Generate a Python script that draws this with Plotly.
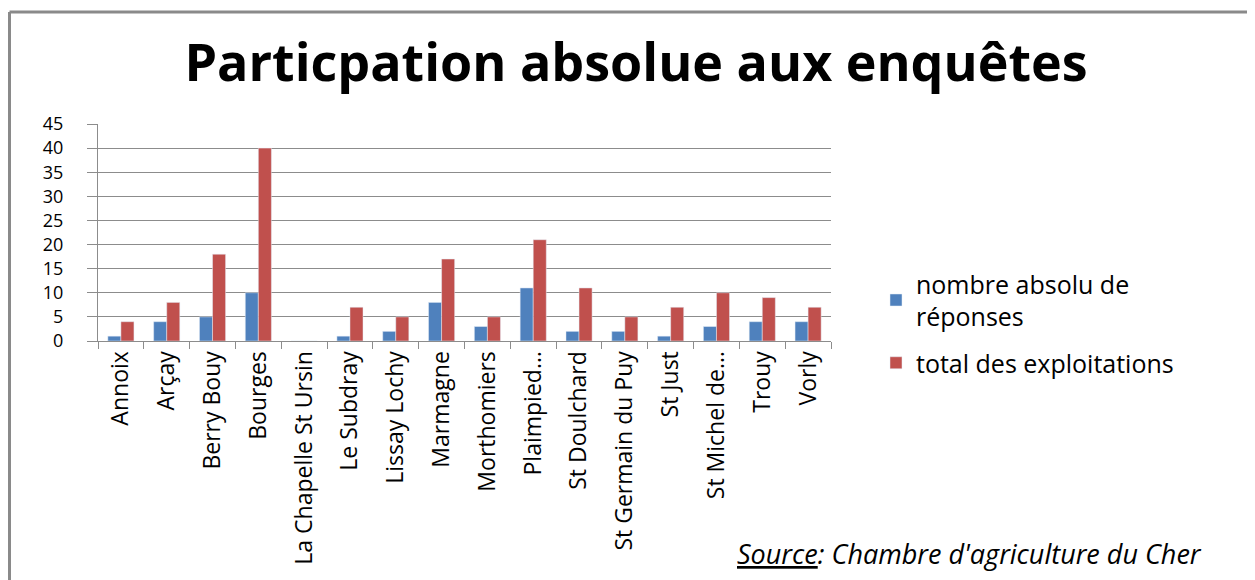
import plotly.graph_objects as go

# communes enquêtées
communes = [
    "Annoix", "Arçay", "Berry Bouy", "Bourges", "La Chapelle St Ursin",
    "Le Subdray", "Lissay Lochy", "Marmagne", "Morthomiers", "Plaimpied…",
    "St Doulchard", "St Germain du Puy", "St Just", "St Michel de…",
    "Trouy", "Vorly",
]
reponses = [1, 4, 5, 10, 0, 1, 2, 8, 3, 11, 2, 2, 1, 3, 4, 4]
exploitations = [4, 8, 18, 40, 0, 7, 5, 17, 5, 21, 11, 5, 7, 10, 9, 7]

BLUE = "#4F81BD"
RED = "#C0504D"
GRID = "#8C8C8C"
FONT = "Open Sans"

# the page body adds an 8px margin, so the figure is drawn 8px smaller
OFF = 8
W, H = 1255 - OFF, 580 - OFF
# plot area in page pixels
L, R, T, B = 98 - OFF, 1255 - 831, 124 - OFF, 580 - 341
pw, ph = W - L - R, H - T - B


def px_x(x):
    # page pixel -> paper x
    return (x - OFF - L) / pw


def px_y(y):
    # page pixel -> paper y
    return (H - B - (y - OFF)) / ph


fig = go.Figure()
fig.add_trace(go.Bar(x=communes, y=reponses, name="nombre absolu de<br>réponses",
                     marker_color=BLUE, legendgroup="a"))
fig.add_trace(go.Bar(x=communes, y=exploitations, name="total des exploitations",
                     marker_color=RED, legendgroup="b"))

fig.update_layout(
    width=W, height=H,
    margin=dict(l=L, r=R, t=T, b=B),
    plot_bgcolor="white",
    paper_bgcolor="white",
    font=dict(family=FONT, color="black"),
    barmode="group",
    bargap=0.43,
    bargroupgap=0,
    title=dict(text="<b>Particpation absolue aux enquêtes</b>",
               font=dict(family=FONT, size=52, color="black"),
               x=(636 - OFF) / W, xanchor="center",
               y=1 - (63 - OFF) / H, yanchor="middle"),
    legend=dict(x=px_x(876), y=px_y(261), xanchor="left", yanchor="top",
                font=dict(size=25), traceorder="grouped", tracegroupgap=11,
                itemwidth=30),
    showlegend=True,
)

fig.update_xaxes(
    type="category",
    tickangle=-90,
    tickfont=dict(size=23),
    showline=True, linecolor=GRID, linewidth=1,
    ticks="outside", tickson="boundaries", ticklen=7, tickcolor=GRID,
    showgrid=False,
)
fig.update_yaxes(
    range=[0, 45], dtick=5,
    tickfont=dict(size=18),
    showline=True, linecolor=GRID, linewidth=1,
    ticks="outside", ticklen=10, tickcolor=GRID,
    ticklabelstandoff=20,
    showgrid=True, gridcolor=GRID, gridwidth=1,
    zeroline=False,
)

# frame around the chart (top and left edges visible)
fig.add_shape(type="line", xref="paper", yref="paper",
              x0=px_x(9.5), x1=px_x(1270), y0=px_y(12), y1=px_y(12),
              line=dict(color="#8A8A8A", width=3))
fig.add_shape(type="line", xref="paper", yref="paper",
              x0=px_x(9.5), x1=px_x(9.5), y0=px_y(12), y1=px_y(600),
              line=dict(color="#8A8A8A", width=3))

fig.add_annotation(
    text="<i><u>Source</u>: Chambre d'agriculture du Cher</i>",
    xref="paper", yref="paper", x=px_x(1204), y=px_y(553),
    xanchor="right", yanchor="middle", showarrow=False,
    font=dict(family=FONT, size=27, color="black"),
)

fig.write_html("out.html")
